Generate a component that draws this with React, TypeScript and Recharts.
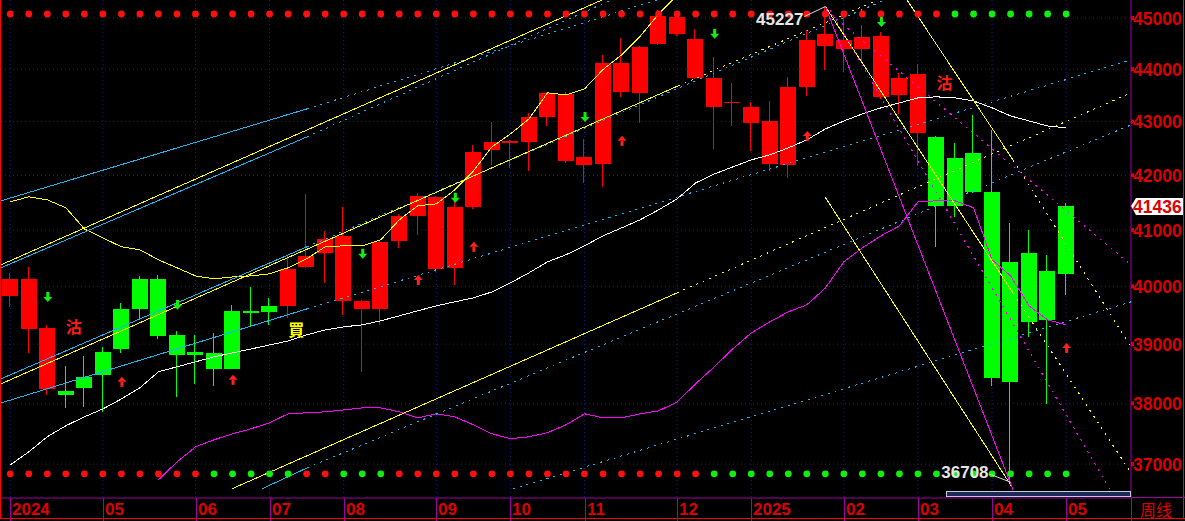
import React from 'react';
import { ComposedChart, Bar, Line, Scatter, XAxis, YAxis, CartesianGrid } from 'recharts';

// ---------- data ----------
const SLOTS = 61; // 58 weekly candles + 3 empty slots on the right

const opens = [39829, 39262, 38242, 38208, 38444, 38867, 39608, 40132, 40132, 39158,
  38867, 38850, 39574, 39574, 39660, 39660, 40345, 40594, 39747, 39608,
  39608, 40808, 41258, 40310, 40327, 41422, 42470, 42601, 42619, 43088,
  42265, 42190, 42209, 43565, 43546, 44492, 44688, 43832, 43279, 43355,
  42974, 42209, 42190, 43660, 44453, 44395, 44395, 43470, 43508, 42787,
  42713, 42321, 42414, 41695, 40434, 40594, 40274, 40221];
const closes = [40132, 40132, 39279, 38140, 38259, 38478, 38917, 39608, 39140, 38816,
  38816, 38579, 38579, 39539, 39556, 40310, 40541, 40843, 40897, 39747,
  40790, 41258, 41622, 41604, 41422, 42433, 42619, 42638, 43088, 43546,
  43527, 42339, 44121, 44121, 44434, 45039, 45020, 44590, 43832, 43374,
  43279, 43012, 43660, 44570, 44688, 44570, 44629, 44648, 43832, 43908,
  41440, 41440, 41695, 38427, 38360, 39383, 39418, 41436];
const highs = [40239, 40345, 39331, 38630, 38799, 38951, 39712, 40185, 40203, 39227,
  39158, 39192, 39678, 39990, 39799, 40559, 41658, 40986, 41422, 39760,
  40826, 41295, 41676, 41622, 41549, 42563, 42993, 42650, 43164, 43565,
  43565, 42675, 44277, 44609, 44450, 45158, 45035, 44785, 44238, 43737,
  43374, 43393, 43851, 44766, 45227, 45098, 44863, 44727, 43927, 44102,
  42730, 42600, 43126, 42843, 41131, 41004, 40559, 41495];
const lows = [39643, 38850, 38140, 37923, 37939, 37857, 38850, 39418, 39088, 38107,
  38326, 38292, 38570, 39296, 39331, 39452, 40330, 40061, 39504, 38529,
  39331, 40683, 40915, 40256, 40025, 41386, 42190, 42134, 42078, 42918,
  42228, 41858, 41785, 43470, 42974, 44473, 44648, 43813, 42489, 42918,
  42451, 42078, 41949, 43489, 43985, 43947, 44121, 43432, 43145, 42172,
  40701, 41240, 41680, 38292, 36708, 39123, 37988, 39851];
// trend state colouring of each candle: r = red, g = green
const trend = 'rrrggggggggggggrrrrrrrrrrrrrrrrrrrrrrrrrrrrrrrrrrrgggggggg';

const ma = [36986, 37199, 37446, 37627, 37775, 37906, 38073, 38259, 38529, 38613,
  38698, 38783, 38850, 38917, 38985, 39054, 39158, 39244, 39296, 39331,
  39400, 39487, 39574, 39660, 39730, 39799, 39903, 40061, 40239, 40434,
  40559, 40719, 40897, 41040, 41186, 41367, 41567, 41858, 42022, 42153,
  42283, 42377, 42507, 42657, 42862, 43012, 43145, 43260, 43355, 43450,
  43470, 43450, 43393, 43260, 43107, 43012, 42918, 42881];
const upperBand = [41513, 41604, 41549, 41404, 41022, 40861, 40701, 40648, 40470, 40328,
  40185, 40132, 40167, 40185, 40221, 40328, 40488, 40701, 40719, 40719,
  40826, 41186, 41440, 41476, 41731, 42078, 42526, 42769, 43050, 43546,
  43508, 43622, 43994, 44277, 44640, 45079, 45450, 45950];
const lowerBandStart = 8;
const lowerBand = [36745, 37034, 37281, 37396, 37495, 37577, 37677, 37825, 37842, 37858,
  37890, 37923, 37923, 37858, 37758, 37825, 37775, 37643, 37495, 37413,
  37446, 37512, 37643, 37825, 37758, 37758, 37825, 37874, 38022, 38327,
  38613, 38917, 39192, 39383, 39556, 39678, 39972, 40434, 40683, 40897,
  41076, 41513, 41531, 41531, 41404, 40470, 40185, 39660, 39418, 39331];

const monthTickIdx = [0, 5, 10, 14, 18, 23, 27, 31, 36, 40, 45, 49, 53, 57];
const monthTickLabels = ['2024', '05', '06', '07', '08', '09', '10', '11', '12', '2025', '02', '03', '04', '05'];
const priceTicks = [37000, 38000, 39000, 40000, 41000, 42000, 43000, 44000, 45000];
const lastPrice = 41436;
const priceDomain = [36453, 45357];

// signal dot rows
const topDotLevel = 45079;
const bottomDotLevel = 36841;
const topDotColors = 'rrrrrrrrrrrrrrrrrrrrrrrrrrrrrrrrrrrrrrrrrrrrrrrrrrrggggggg';
const bottomDotColors = 'rrrrrrrrrrrgggggrrgggrrrrrrrrrrrrrrrrrgggggggggggggggggggg';

// arrows
const sellArrows = [
  { x: 2, y: 39816 }, { x: 9, y: 39678 }, { x: 19, y: 40577 }, { x: 24, y: 41585 },
  { x: 31, y: 43088 }, { x: 38, y: 44688 }, { x: 47, y: 44922 },
];
const buyArrows = [
  { x: 6, y: 38360 }, { x: 12, y: 38393 }, { x: 22, y: 40114 }, { x: 25, y: 40701 },
  { x: 33, y: 42638 }, { x: 43, y: 42731 }, { x: 57, y: 38934 },
];

const extremeMarks = [
  { x: 44, y: 45227, text: '45227', kind: 'high' },
  { x: 54, y: 36708, text: '36708', kind: 'low' },
];
const signalMarks = [
  { x: 3, y: 39294, text: '沽', kind: 'sell' },
  { x: 50, y: 43735, text: '沽', kind: 'sell' },
  { x: 15, y: 39243, text: '買', kind: 'buy' },
];

// drawn trend lines (slot index, price)
const segA1 = [{ x: -0.5, y: 41531 }, { x: 16.02, y: 43241 }];
const segA2 = [{ x: 16.02, y: 43241 }, { x: 34.91, y: 45357 }];
const segB = [{ x: -0.5, y: 40381 }, { x: 31.94, y: 45357 }];
const segC1 = [{ x: -0.5, y: 40328 }, { x: 16.02, y: 42713 }];
const segC2 = [{ x: 16.02, y: 42713 }, { x: 32.43, y: 45357 }];
const segD1 = [{ x: -0.5, y: 38326 }, { x: 36.05, y: 43679 }];
const segD2 = [{ x: 36.05, y: 43679 }, { x: 46.84, y: 45357 }];
const segE1 = [{ x: -0.5, y: 38410 }, { x: 16.02, y: 40701 }];
const segE2 = [{ x: 16.02, y: 40701 }, { x: 47.22, y: 45357 }];
const segF1 = [{ x: -0.5, y: 38005 }, { x: 16.02, y: 39608 }];
const segF2 = [{ x: 16.02, y: 39608 }, { x: 60.5, y: 44180 }];
const segG1 = [{ x: 11.97, y: 36601 }, { x: 35.99, y: 39886 }];
const segG2 = [{ x: 35.99, y: 39886 }, { x: 60.5, y: 43546 }];
const segH1 = [{ x: 13.59, y: 36601 }, { x: 16.02, y: 36937 }];
const segH2 = [{ x: 16.02, y: 36937 }, { x: 60.5, y: 42937 }];
const segI = [{ x: 27.14, y: 36601 }, { x: 60.5, y: 39730 }];
const segK = [{ x: 43.98, y: 41604 }, { x: 54.07, y: 36633 }];
const segL = [{ x: 44, y: 45227 }, { x: 54.13, y: 36585 }];
const segM1 = [{ x: 44, y: 45227 }, { x: 54.13, y: 39886 }];
const segM2 = [{ x: 54.13, y: 39886 }, { x: 60.5, y: 36857 }];
const segN1 = [{ x: 48.41, y: 45357 }, { x: 54.13, y: 42283 }];
const segN2 = [{ x: 54.13, y: 42283 }, { x: 60.5, y: 38951 }];
const segP = [{ x: 44.03, y: 45158 }, { x: 60.5, y: 40381 }];
const segQ = [{ x: 44.25, y: 45158 }, { x: 59.36, y: 36585 }];

// ---------- styles ----------
const RED = '#ff0000';
const GREEN = '#00ff00';
const CYAN = '#1eb4f0';
const YELLOW = '#ffff00';
const MAGENTA = '#ff00ff';
const AXIS_RED = '#dd0000';
const AXIS_MAG = '#a000a0';
const GRID = '#1c1c9a';
const DOTTED = '2 5';
const NUM_FONT = "'Liberation Sans', Arial, sans-serif";
const CJK_FONT = "'Noto Sans CJK SC', 'Noto Sans CJK TC', sans-serif";

const segments: { data: { x: number; y: number }[]; color: string; dashed: boolean }[] = [
  { data: segA1, color: CYAN, dashed: false },
  { data: segA2, color: CYAN, dashed: true },
  { data: segC1, color: CYAN, dashed: false },
  { data: segC2, color: CYAN, dashed: true },
  { data: segB, color: YELLOW, dashed: false },
  { data: segE1, color: CYAN, dashed: false },
  { data: segE2, color: CYAN, dashed: true },
  { data: segD1, color: YELLOW, dashed: false },
  { data: segD2, color: YELLOW, dashed: true },
  { data: segF1, color: CYAN, dashed: false },
  { data: segF2, color: CYAN, dashed: true },
  { data: segH1, color: CYAN, dashed: false },
  { data: segH2, color: CYAN, dashed: true },
  { data: segG1, color: YELLOW, dashed: false },
  { data: segG2, color: YELLOW, dashed: true },
  { data: segI, color: CYAN, dashed: true },
  { data: segK, color: YELLOW, dashed: false },
  { data: segM1, color: YELLOW, dashed: false },
  { data: segM2, color: YELLOW, dashed: true },
  { data: segN1, color: YELLOW, dashed: false },
  { data: segN2, color: YELLOW, dashed: true },
  { data: segP, color: MAGENTA, dashed: true },
  { data: segQ, color: MAGENTA, dashed: true },
  { data: segL, color: MAGENTA, dashed: false },
];

const rows = Array.from({ length: SLOTS }, (_, i) => ({
  d: i,
  o: i < opens.length ? opens[i] : null,
  h: i < highs.length ? highs[i] : null,
  l: i < lows.length ? lows[i] : null,
  c: i < closes.length ? closes[i] : null,
  t: i < trend.length ? trend[i] : null,
  ma: i < ma.length ? ma[i] : null,
  up: i < upperBand.length ? upperBand[i] : null,
  lo: i >= lowerBandStart && i - lowerBandStart < lowerBand.length ? lowerBand[i - lowerBandStart] : null,
}));

const topDots = topDotColors.split('').map((c, i) => ({ x: i, y: topDotLevel, c }));
const bottomDots = bottomDotColors.split('').map((c, i) => ({ x: i, y: bottomDotLevel, c }));

// ---------- shapes ----------
const Candle = (props: any) => {
  const { x, y, width, height, payload } = props;
  if (!payload || payload.h == null || x == null || y == null) return null;
  const top = Math.min(y, y + height);
  const h = Math.abs(height);
  const lh = Math.log(payload.h);
  const ll = Math.log(payload.l);
  const py = (v: number) => top + (h * (lh - Math.log(v))) / (lh - ll || 1);
  const bt = py(Math.max(payload.o, payload.c));
  const bb = py(Math.min(payload.o, payload.c));
  const color = payload.t === 'r' ? RED : GREEN;
  const left = Math.round(x + width / 2 - 8);
  return (
    <g shapeRendering="crispEdges">
      <rect x={left + 7} y={top} width={1} height={Math.max(h, 1)} fill={color} />
      <rect x={left} y={bt} width={16} height={Math.max(bb - bt, 1.5)} fill={color} />
    </g>
  );
};

const Dot = (props: any) => {
  const { cx, cy, payload } = props;
  return <circle cx={cx} cy={cy} r={3.4} fill={payload.c === 'r' ? '#ff1010' : '#10f010'} />;
};

const DownArrow = (props: any) => {
  const { cx, cy } = props;
  return (
    <g fill="#10f010">
      <rect x={cx - 1} y={cy - 5} width={3} height={6} />
      <polygon points={`${cx - 4},${cy} ${cx + 5},${cy} ${cx + 0.5},${cy + 5}`} />
    </g>
  );
};
const UpArrow = (props: any) => {
  const { cx, cy } = props;
  return (
    <g fill="#ff2020">
      <polygon points={`${cx - 4},${cy} ${cx + 5},${cy} ${cx + 0.5},${cy - 5}`} />
      <rect x={cx - 1} y={cy} width={3} height={5} />
    </g>
  );
};

const ExtremeLabel = (props: any) => {
  const { cx, cy, payload } = props;
  const high = payload.kind === 'high';
  const tx = cx - 22;
  const ty = high ? cy + 18 : cy - 4;
  const ly = high ? cy + 10 : cy - 8;
  return (
    <g>
      <line x1={tx + 1} y1={ly} x2={cx} y2={cy} stroke="#d8d8d8" strokeWidth={1} />
      <text x={tx} y={ty} textAnchor="end" fill="#e6e6e6" fontSize={17} fontWeight="bold" fontFamily={NUM_FONT}>
        {payload.text}
      </text>
    </g>
  );
};

const SignalLabel = (props: any) => {
  const { cx, cy, payload } = props;
  return (
    <text x={cx} y={cy + 6} fill={payload.kind === 'sell' ? '#ff1a1a' : YELLOW} fontSize={16} fontWeight="bold" fontFamily={CJK_FONT}>
      {payload.text}
    </text>
  );
};

const Nothing = () => <g />;

const XTick = (props: any) => {
  const { x, y, payload } = props;
  const k = monthTickIdx.indexOf(payload.value);
  const label = k >= 0 ? monthTickLabels[k] : '';
  const px = Math.round(x) + 0.5;
  return (
    <g>
      <line x1={px} x2={px} y1={y} y2={y + 23} stroke={AXIS_MAG} strokeWidth={1} />
      <text x={px + 1.5} y={y + 17} fill={AXIS_RED} fontSize={17} fontWeight="bold" fontFamily={NUM_FONT}>
        {label}
      </text>
    </g>
  );
};

const YTick = (props: any) => {
  const { x, y, payload } = props;
  const v = payload.value;
  if (v === lastPrice) {
    return (
      <g>
        <polygon points={`${x},${y} ${x + 5},${y - 8} ${x + 52},${y - 8} ${x + 52},${y + 9} ${x + 5},${y + 9}`} fill="#ffffff" />
        <text x={x + 2} y={y + 6.5} fill={AXIS_RED} fontSize={17.5} fontWeight="bold" fontFamily={NUM_FONT}>{v}</text>
      </g>
    );
  }
  return (
    <g>
      <rect x={x} y={y - 2} width={3} height={4} fill={AXIS_RED} />
      <text x={x + 2} y={y + 6.5} fill={AXIS_RED} fontSize={17.5} fontWeight="bold" fontFamily={NUM_FONT}>{v}</text>
    </g>
  );
};

export default function App() {
  return (
    <div style={{ position: 'absolute', left: 0, top: 0, width: 1185, height: 521, background: '#000', overflow: 'hidden' }}>
      <ComposedChart width={1185} height={521} data={rows} margin={{ top: 0, right: 0, bottom: 2, left: 1 }}>
        <CartesianGrid
          xAxisId="n"
          stroke={GRID}
          strokeDasharray="1 3"
          verticalValues={monthTickIdx}
          horizontalValues={priceTicks}
        />
        <XAxis
          xAxisId="c"
          dataKey="d"
          type="category"
          ticks={monthTickIdx}
          interval={0}
          tick={<XTick />}
          tickLine={false}
          tickSize={0}
          tickMargin={0}
          axisLine={{ stroke: AXIS_MAG }}
          height={21}
        />
        <XAxis xAxisId="n" dataKey="x" type="number" domain={[-0.5, SLOTS - 0.5]} allowDataOverflow hide />
        <YAxis
          orientation="right"
          type="number"
          scale="log"
          domain={priceDomain}
          allowDataOverflow
          ticks={[...priceTicks, lastPrice]}
          interval={0}
          tick={<YTick />}
          tickLine={false}
          tickSize={0}
          tickMargin={0}
          axisLine={{ stroke: AXIS_MAG }}
          width={54}
        />
        <Bar
          xAxisId="c"
          dataKey={(r: any) => (r.h == null ? null : [r.l, r.h])}
          barSize={16}
          shape={<Candle />}
          isAnimationActive={false}
        />
        <Line xAxisId="c" dataKey="ma" stroke="#ffffff" strokeWidth={1} shapeRendering="crispEdges" dot={false} activeDot={false} isAnimationActive={false} />
        <Line xAxisId="c" dataKey="up" stroke={YELLOW} strokeWidth={1} shapeRendering="crispEdges" dot={false} activeDot={false} isAnimationActive={false} />
        <Line xAxisId="c" dataKey="lo" stroke={MAGENTA} strokeWidth={1} shapeRendering="crispEdges" dot={false} activeDot={false} isAnimationActive={false} />
        {segments.map((s, k) => (
          <Scatter
            key={k}
            xAxisId="n"
            data={s.data}
            dataKey="y"
            shape={<Nothing />}
            line={{ stroke: s.color, strokeWidth: 1, strokeDasharray: s.dashed ? DOTTED : undefined, shapeRendering: 'crispEdges' }}
            isAnimationActive={false}
          />
        ))}
        <Scatter xAxisId="n" data={topDots} dataKey="y" shape={<Dot />} isAnimationActive={false} />
        <Scatter xAxisId="n" data={bottomDots} dataKey="y" shape={<Dot />} isAnimationActive={false} />
        <Scatter xAxisId="n" data={sellArrows} dataKey="y" shape={<DownArrow />} isAnimationActive={false} />
        <Scatter xAxisId="n" data={buyArrows} dataKey="y" shape={<UpArrow />} isAnimationActive={false} />
        <Scatter xAxisId="n" data={signalMarks} dataKey="y" shape={<SignalLabel />} isAnimationActive={false} />
        <Scatter xAxisId="n" data={extremeMarks} dataKey="y" shape={<ExtremeLabel />} isAnimationActive={false} />
      </ComposedChart>
      {/* frame */}
      <div style={{ position: 'absolute', left: 0, top: 0, width: 1, height: 519, background: '#ff0000' }} />
      <div style={{ position: 'absolute', left: 1183, top: 0, width: 1, height: 519, background: '#ff0000' }} />
      <div style={{ position: 'absolute', left: 0, top: 518, width: 1185, height: 1, background: '#ff0000' }} />
      <div style={{ position: 'absolute', left: 1131, top: 497, width: 54, height: 1, background: AXIS_MAG }} />
      <div style={{ position: 'absolute', left: 1131, top: 497, width: 1, height: 24, background: AXIS_MAG }} />
      <div style={{ position: 'absolute', left: 946, top: 491, width: 183, height: 4, border: '1px solid #c8c8d8', background: '#1c2a58' }} />
      <div style={{ position: 'absolute', left: 1140, top: 499, color: AXIS_RED, fontSize: 16, lineHeight: '20px', fontFamily: CJK_FONT }}>周线</div>
    </div>
  );
}
